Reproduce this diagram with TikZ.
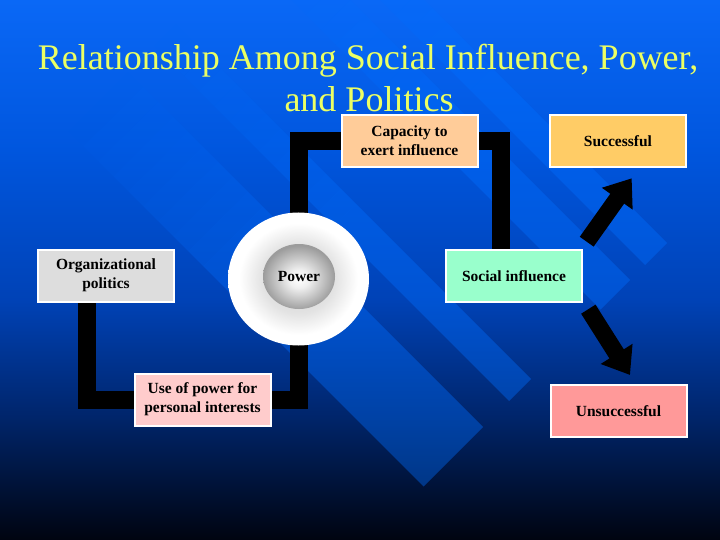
\documentclass[tikz,border=0pt]{standalone}
\usepackage{fontspec}
\setmainfont{Liberation Serif}
\usetikzlibrary{arrows.meta,shapes.geometric}
\definecolor{titlecol}{RGB}{235,255,100}
\definecolor{bandcol}{RGB}{0,110,255}
\definecolor{bgA}{RGB}{10,104,246}
\definecolor{bgB}{RGB}{0,86,222}
\definecolor{bgC}{RGB}{0,66,182}
\definecolor{bgD}{RGB}{0,36,104}
\definecolor{bgE}{RGB}{0,4,16}
\definecolor{capcol}{RGB}{255,204,153}
\definecolor{succol}{RGB}{255,204,102}
\definecolor{orgcol}{RGB}{221,221,221}
\definecolor{soccol}{RGB}{153,255,204}
\definecolor{usecol}{RGB}{255,204,204}
\definecolor{unscol}{RGB}{255,153,153}
\pgfdeclareradialshading{outerglow}{\pgfpoint{0bp}{0bp}}{color(0bp)=(gray!40); color(13bp)=(gray!22); color(21bp)=(white); color(25bp)=(white); color(50bp)=(white)}
\pgfdeclareradialshading{innerball}{\pgfpoint{0bp}{-2bp}}{color(0bp)=(white); color(7bp)=(gray!12); color(25bp)=(gray!78); color(50bp)=(gray!78)}
\pgfdeclarelayer{bglayer}
\pgfdeclarelayer{linelayer}
\pgfsetlayers{bglayer,linelayer,main}
\newcommand\bandseg[5]{%
  \fill[bandcol, fill opacity=#5]
    ({(#3-(#1))/2},{(#3+(#1))/2}) -- ({(#4-(#1))/2},{(#4+(#1))/2}) --
    ({(#4-(#2))/2},{(#4+(#2))/2}) -- ({(#3-(#2))/2},{(#3+(#2))/2}) -- cycle;}
\newcommand\myband[2]{%
  \foreach \i in {0,...,11}{%
    \pgfmathsetmacro\ss{200+30*\i}%
    \pgfmathsetmacro\ee{230+30*\i}%
    \pgfmathsetmacro\op{0.033*(\i+1)}%
    \bandseg{#1}{#2}{\ss}{\ee}{\op}}%
  \bandseg{#1}{#2}{560}{910}{0.4}}
\begin{document}
\begin{tikzpicture}[x=1pt,y=-1pt,
  box/.style={draw=white, line width=2pt, minimum width=136pt, minimum height=52pt,
    inner sep=2pt, align=center, text=black,
    font=\fontsize{15.5}{19}\selectfont\bfseries},
  bar/.style={line width=18pt, draw=black, line join=miter},
  blockarrow/.style={line width=17pt, draw=black, -{Triangle[width=36pt,length=25pt]}},
  titletext/.style={text=titlecol, font=\fontsize{36}{40}\selectfont, inner sep=0pt, anchor=base}]
\useasboundingbox (0,0) rectangle (720,540);
% background
\begin{pgfonlayer}{bglayer}
  \shade[top color=bgA, bottom color=bgB] (0,0) rectangle (720,151);
  \shade[top color=bgB, bottom color=bgC] (0,150) rectangle (720,301);
  \shade[top color=bgC, bottom color=bgD] (0,300) rectangle (720,421);
  \shade[top color=bgD, bottom color=bgE] (0,420) rectangle (720,540);
  \begin{scope}
    \clip (0,0) rectangle (720,540);
    \myband{63}{-56}
    \myband{-108}{-152}
    \myband{-291}{-350}
    \myband{-380}{-424}
  \end{scope}
\end{pgfonlayer}
% title
\node[titletext] (title1) at (368,70) {Relationship Among Social Influence, Power,};
\node[titletext] (title2) at (369,112) {and Politics};
% nodes
\node[box, fill=capcol] (cap) at (409.5,141) {Capacity to\\exert influence};
\node[box, fill=succol] (succ) at (618,141) {Successful};
\node[box, fill=orgcol] (org) at (106,275.5) {Organizational\\politics};
\node[box, fill=soccol] (soc) at (514,276) {Social influence};
\node[box, fill=usecol] (use) at (202.5,399.5) {Use of power for\\personal interests};
\node[box, fill=unscol] (unsucc) at (618.5,411) {Unsuccessful};
\node[ellipse, minimum width=141pt, minimum height=133pt, inner sep=0pt, shading=outerglow] (pw) at (298.5,279) {};
\node[ellipse, minimum width=72pt, minimum height=65pt, inner sep=0pt, shading=innerball,
  font=\fontsize{15.5}{17}\selectfont\bfseries] (pin) at (299,276.5) {Power};
% connectors
\begin{pgfonlayer}{linelayer}
  \draw[bar] (cap.center) -| (pw.center);
  \draw[bar] (cap.center) -| ([xshift=-13.5pt]soc.center);
  \draw[bar] ([xshift=-19pt]org.center) |- (use.center);
  \draw[bar] (use.center) -| (pw.center);
\end{pgfonlayer}
\coordinate (a1s) at (586.7,241.7);
\coordinate (a1e) at (631.7,178.3);
\coordinate (a2s) at (588.3,309.2);
\coordinate (a2e) at (630,375);
\draw[blockarrow] (a1s) -- (a1e);
\draw[blockarrow] (a2s) -- (a2e);
\end{tikzpicture}
\end{document}
